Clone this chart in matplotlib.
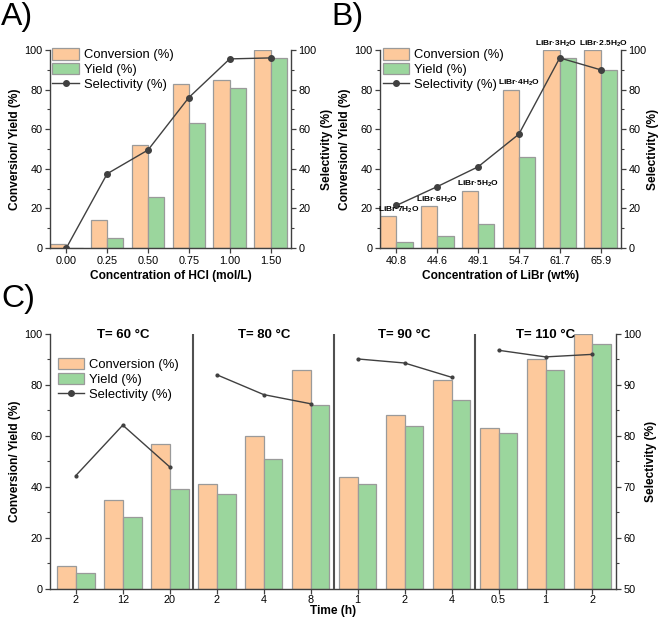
import matplotlib
matplotlib.use("Agg")
import matplotlib.pyplot as plt
import numpy as np
from matplotlib.ticker import MultipleLocator

plt.rcParams['font.family'] = ['Liberation Sans', 'DejaVu Sans']
plt.rcParams['mathtext.fontset'] = 'custom'
plt.rcParams['mathtext.rm'] = 'Liberation Sans'
plt.rcParams['mathtext.bf'] = 'Liberation Sans:bold'

# ---------------- data ----------------
hcl_labels = ["0.00", "0.25", "0.50", "0.75", "1.00", "1.50"]
hcl_conversion = [2, 14, 52, 83, 85, 100]
hcl_yield = [0, 5, 26, 63, 81, 96]
hcl_selectivity = [0, 37.5, 49.5, 76, 95.5, 96]

libr_labels = ["40.8", "44.6", "49.1", "54.7", "61.7", "65.9"]
libr_conversion = [16, 21, 29, 80, 100, 100]
libr_yield = [3, 6, 12, 46, 96, 90]
libr_selectivity = [21.5, 31, 41, 57.5, 96, 90]
libr_hydrates = ["7", "6", "5", "4", "3", "2.5"]

time_labels = ["2", "12", "20", "2", "4", "8", "1", "2", "4", "0.5", "1", "2"]
time_conversion = [9, 35, 57, 41, 60, 86, 44, 68, 82, 63, 90, 100]
time_yield = [6, 28, 39, 37, 51, 72, 41, 64, 74, 61, 86, 96]
time_selectivity = [72.2, 82.1, 73.9, 92.0, 88.1, 86.3, 95.1, 94.3, 91.5, 96.8, 95.5, 96.0]
temperatures = ["60", "80", "90", "110"]
group_size = 3

# ---------------- style ----------------
C_CONV = "#FDC99C"
C_YIELD = "#9BD69D"
C_EDGE = "#9a9a9a"
C_LINE = "#404040"
C_SPINE = "#404040"
TICK_FS = 7.8
LABEL_FS = 8.6
LEG_FS = 9.4

fig = plt.figure(figsize=(6.61, 6.21), dpi=100)


def style_axes(ax, ax2):
    for a in (ax, ax2):
        a.spines['top'].set_visible(False)
        for s in ('left', 'right', 'bottom'):
            a.spines[s].set_color(C_SPINE)
            a.spines[s].set_linewidth(1.0)
        a.tick_params(which='major', direction='out', length=3.5, width=0.9,
                      colors=C_SPINE, labelsize=TICK_FS, labelcolor='black', pad=2)
        a.tick_params(which='minor', direction='out', length=2, width=0.8, colors=C_SPINE)
    ax.spines['right'].set_visible(False)
    ax2.spines['left'].set_visible(False)
    ax2.spines['bottom'].set_visible(False)


def make_legend(ax_leg, handles, labels, anchor):
    return ax_leg.legend(handles, labels, loc='upper left',
                         bbox_to_anchor=anchor, frameon=False, fontsize=LEG_FS,
                         handlelength=2.0, handleheight=0.95, labelspacing=0.12,
                         handletextpad=0.4, borderaxespad=0, borderpad=0.1)


def bars_panel(ax, labels, conv, yld, sel, w=0.4, xlim=(-0.4, 5.5), msize=4, rpad=2):
    x = np.arange(len(labels))
    ax.bar(x - w, conv, width=w, align='edge', color=C_CONV, edgecolor=C_EDGE,
           linewidth=0.9, label="Conversion (%)", zorder=2)
    ax.bar(x, yld, width=w, align='edge', color=C_YIELD, edgecolor=C_EDGE,
           linewidth=0.9, label="Yield (%)", zorder=2)
    ax.set_xlim(*xlim)
    ax.set_ylim(0, 100)
    ax.set_xticks(x)
    ax.set_xticklabels(labels)
    ax.yaxis.set_major_locator(MultipleLocator(20))
    ax.yaxis.set_minor_locator(MultipleLocator(10))
    ax2 = ax.twinx()
    ln, = ax2.plot(x, sel, '-o', color=C_LINE, lw=1.0, ms=msize, label="Selectivity (%)",
                   zorder=4)
    ax2.set_ylim(0, 100)
    ax2.yaxis.set_major_locator(MultipleLocator(20))
    ax2.yaxis.set_minor_locator(MultipleLocator(10))
    style_axes(ax, ax2)
    ax.set_ylabel("Conversion/ Yield (%)", fontsize=LABEL_FS, fontweight='bold', labelpad=2)
    ax2.set_ylabel("Selectivity (%)", fontsize=LABEL_FS, fontweight='bold', labelpad=rpad)
    h1, l1 = ax.get_legend_handles_labels()
    make_legend(ax2, h1 + [ln], l1 + [ln.get_label()], (0.005, 1.015))
    return ax2


# ---------------- Panel A ----------------
axA = fig.add_axes([0.0756, 0.6006, 0.3646, 0.3189])
bars_panel(axA, hcl_labels, hcl_conversion, hcl_yield, hcl_selectivity, rpad=3)
axA.set_xlabel("Concentration of HCl (mol/L)", fontsize=LABEL_FS, fontweight='bold', labelpad=3)

# ---------------- Panel B ----------------
axB = fig.add_axes([0.5749, 0.6006, 0.3646, 0.3189])
axB2 = bars_panel(axB, libr_labels, libr_conversion, libr_yield, libr_selectivity, rpad=0.5)
axB.set_xlabel("Concentration of LiBr (wt%)", fontsize=LABEL_FS, fontweight='bold', labelpad=3)
label_shift = [0.06, 0.0, 0.0, 0.0, -0.1, 0.08]
for i, (h, c) in enumerate(zip(libr_hydrates, libr_conversion)):
    axB2.text(i + label_shift[i], c + 0.6, "LiBr\u00b7" + h + r"H$_\mathbf{2}$O", ha='center',
              va='bottom', fontsize=6, fontweight='bold', zorder=5, clip_on=False)

# ---------------- Panel C ----------------
axC = fig.add_axes([0.0756, 0.052, 0.8563, 0.4102])
n = len(time_labels)
xC = np.arange(n)
w = 0.4
axC.bar(xC - w, time_conversion, width=w, align='edge', color=C_CONV, edgecolor=C_EDGE,
        linewidth=0.9, label="Conversion (%)", zorder=2)
axC.bar(xC, time_yield, width=w, align='edge', color=C_YIELD, edgecolor=C_EDGE,
        linewidth=0.9, label="Yield (%)", zorder=2)
axC.set_xlim(-0.55, n - 0.5)
axC.set_ylim(0, 100)
axC.set_xticks(xC)
axC.set_xticklabels(time_labels)
axC.yaxis.set_major_locator(MultipleLocator(20))
axC.yaxis.set_minor_locator(MultipleLocator(10))
for g in range(1, len(temperatures)):
    axC.axvline(g * group_size - 0.5, color='#505050', lw=1.5, zorder=3)
axC2 = axC.twinx()
for g in range(len(temperatures)):
    sl = slice(g * group_size, (g + 1) * group_size)
    axC2.plot(xC[sl], time_selectivity[sl], '-o', color=C_LINE, lw=1.0, ms=2, zorder=4)
axC2.set_ylim(50, 100)
axC2.yaxis.set_major_locator(MultipleLocator(10))
axC2.yaxis.set_minor_locator(MultipleLocator(5))
style_axes(axC, axC2)
axC.tick_params(axis='x', which='major', pad=1)
for g, t in enumerate(temperatures):
    axC2.text(g * group_size + 1, 99.8, "T= " + t + " \u00b0C", ha='center', va='center',
              fontsize=9.5, fontweight='bold')
axC.set_ylabel("Conversion/ Yield (%)", fontsize=LABEL_FS, fontweight='bold', labelpad=2)
axC2.set_ylabel("Selectivity (%)", fontsize=LABEL_FS, fontweight='bold', labelpad=2)
axC.set_xlabel("Time (h)", fontsize=LABEL_FS, fontweight='bold', labelpad=0)
h1, l1 = axC.get_legend_handles_labels()
lnC_leg, = axC2.plot([], [], '-o', color=C_LINE, lw=1.0, ms=4)
make_legend(axC2, h1 + [lnC_leg], l1 + ["Selectivity (%)"], (0.012, 0.91))

# ---------------- panel letters ----------------
fig.text(0.002, 0.997, "A)", fontsize=23, va='top', ha='left')
fig.text(0.501, 0.997, "B)", fontsize=23, va='top', ha='left')
fig.text(0.002, 0.543, "C)", fontsize=23, va='top', ha='left')

fig.savefig("out.png", dpi=100)
